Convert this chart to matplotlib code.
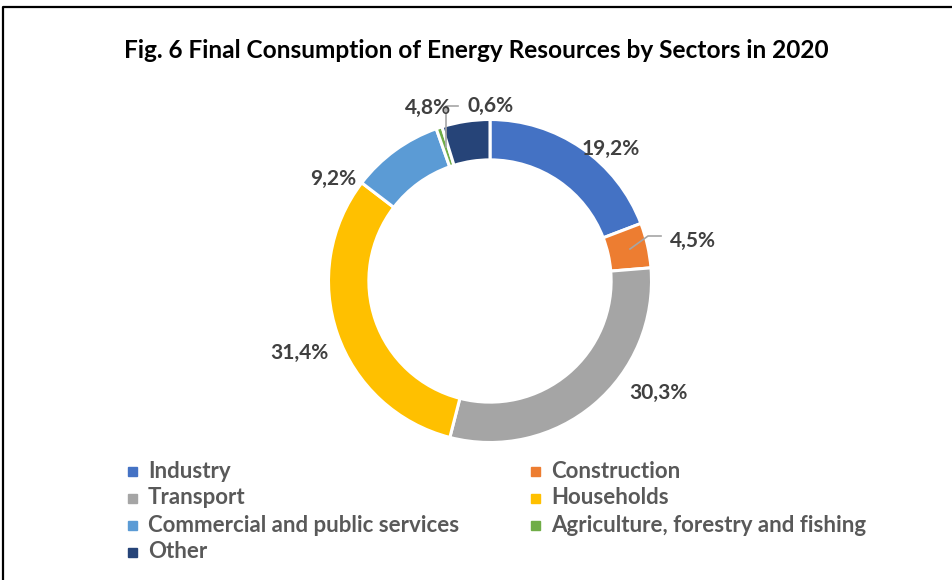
import matplotlib
matplotlib.use("Agg")
import matplotlib.pyplot as plt
from matplotlib.lines import Line2D

plt.rcParams['font.family'] = ['Lato', 'DejaVu Sans']

sectors = ["Industry", "Construction", "Transport", "Households",
           "Commercial and public services", "Agriculture, forestry and fishing", "Other"]
shares = [19.2, 4.5, 30.3, 31.4, 9.2, 0.6, 4.8]
colors = ["#4472C4", "#ED7D31", "#A5A5A5", "#FFC000", "#5B9BD5", "#70AD47", "#264478"]
label_texts = ["19,2%", "4,5%", "30,3%", "31,4%", "9,2%", "0,6%", "4,8%"]
title = "Fig. 6 Final Consumption of Energy Resources by Sectors in 2020"

W, H = 953, 580
fig = plt.figure(figsize=(W / 100, H / 100), dpi=100)

# pie axes (pixel layout)
cx, cy, R = 490, 281, 161.5
ax = fig.add_axes([(cx - R) / W, (H - cy - R) / H, 2 * R / W, 2 * R / H])
wedges, _ = ax.pie(shares, colors=colors, startangle=90, counterclock=False,
                   radius=1.0, wedgeprops=dict(width=0.25, edgecolor="white", linewidth=2.2))
ax.set_xlim(-1, 1)
ax.set_ylim(-1, 1)
ax.set_aspect('auto')
ax.axis('off')

# overlay axes in pixel coordinates for text
ov = fig.add_axes([0, 0, 1, 1], zorder=5)
ov.set_xlim(0, W)
ov.set_ylim(H, 0)
ov.axis('off')

# frame
ov.add_line(Line2D([3.5, 3.5, W], [H, 6.5, 6.5], color="black", lw=1.6))

ov.text(476, 51, title, ha="center", va="center", fontsize=17.6, fontweight="bold", color="black")

lbl_color = "#404040"
label_pos = [(611, 149), (693, 241), (658, 393), (299, 353), (333, 179), (491, 106), (428, 108)]
for txt, (x, y) in zip(label_texts, label_pos):
    ov.text(x, y, txt, ha="center", va="center", fontsize=15, fontweight="bold", color=lbl_color)

# leader lines
ov.add_line(Line2D([661, 648, 630], [236, 236, 249], color="#A5A5A5", lw=1.2))
ov.add_line(Line2D([458, 446, 446], [106, 106, 147], color="#A5A5A5", lw=1.2))

# legend
leg_color = "#595959"
cols_x = [133, 536]
rows_y = [471, 498, 525, 552]
for i, (name, c) in enumerate(zip(sectors, colors)):
    col = i % 2
    row = i // 2
    x = cols_x[col]
    y = rows_y[row]
    ov.add_patch(plt.Rectangle((x - 4.5, y - 4.5), 9, 9, color=c))
    ov.text(x + 15, y, name, ha="left", va="center", fontsize=16, fontweight="bold", color=leg_color)

fig.savefig("out.png", dpi=100)
